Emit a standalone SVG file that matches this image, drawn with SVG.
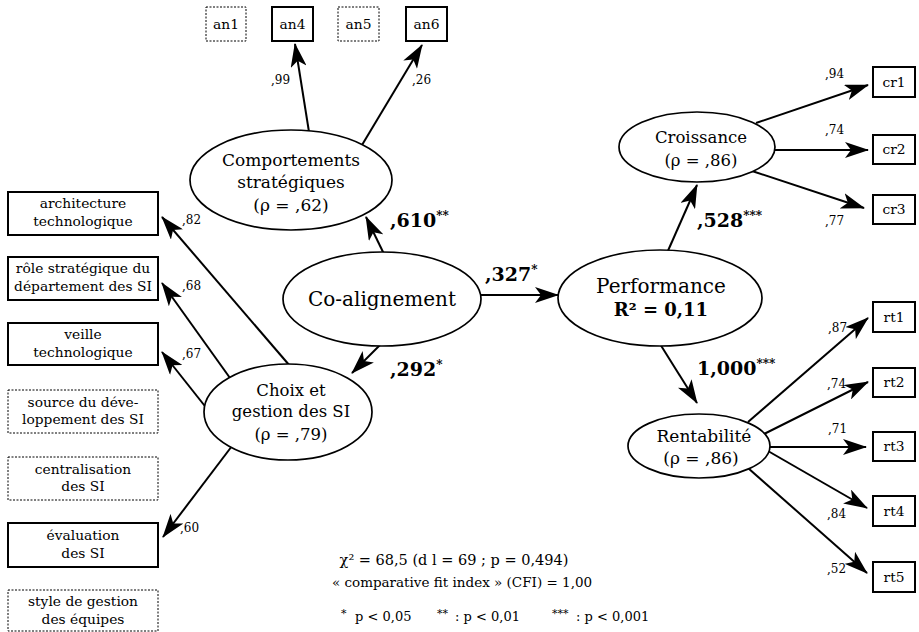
<svg xmlns="http://www.w3.org/2000/svg" width="919" height="632" viewBox="0 0 919 632">
<style>
text{font-family:"DejaVu Serif","Liberation Serif",serif;fill:#000;}
.box{fill:#fff;stroke:#000;stroke-width:2;}
.dbox{fill:#fff;stroke:#000;stroke-width:1;stroke-dasharray:2,1.5;}
.ell{fill:#fff;stroke:#000;stroke-width:1.7;}
.bt{font-size:13.8px;text-anchor:middle;}
.lt{font-size:12px;}
.bl{font-size:19px;font-weight:bold;}
.sup{font-size:12px;font-weight:bold;}
.c{text-anchor:middle;}
.con line{stroke:#000;stroke-width:2;marker-end:url(#ah);}
.note{font-size:13px;}
</style>
<defs>
<marker id="ah" markerUnits="userSpaceOnUse" markerWidth="24" markerHeight="16" refX="23" refY="8" orient="auto" viewBox="0 0 24 16">
<path d="M0,0 L24,8 L0,16 L6,8 z" fill="#000"/>
</marker>
</defs>
<rect width="919" height="632" fill="#fff"/>

<g id="connectors" class="con">
<line x1="309" y1="132" x2="295" y2="44"/>
<line x1="362" y1="145" x2="422" y2="45"/>
<line x1="384" y1="254" x2="366" y2="217"/>
<line x1="480" y1="295" x2="558" y2="295"/>
<line x1="380" y1="345" x2="352" y2="373"/>
<line x1="290" y1="366" x2="162" y2="217"/>
<line x1="230" y1="378" x2="162" y2="283"/>
<line x1="208" y1="410" x2="162" y2="352"/>
<line x1="232" y1="446" x2="163" y2="537"/>
<line x1="667" y1="253" x2="697" y2="185"/>
<line x1="660" y1="344" x2="697" y2="403"/>
<line x1="756" y1="123" x2="868" y2="85"/>
<line x1="772" y1="150" x2="868" y2="150"/>
<line x1="752" y1="171" x2="864" y2="208"/>
<line x1="748" y1="422" x2="868" y2="318"/>
<line x1="764" y1="434" x2="868" y2="382"/>
<line x1="768" y1="447" x2="866" y2="447"/>
<line x1="768" y1="451" x2="867" y2="508"/>
<line x1="748" y1="468" x2="867" y2="573"/>
</g>

<g id="an1"><rect class="dbox" x="206" y="7" width="40" height="34"/><text class="bt" x="226" y="29">an1</text></g>
<g id="an4"><rect class="box" x="272" y="7" width="41" height="34"/><text class="bt" x="292.5" y="29">an4</text></g>
<g id="an5"><rect class="dbox" x="338" y="7" width="41" height="34"/><text class="bt" x="358.5" y="29">an5</text></g>
<g id="an6"><rect class="box" x="406" y="7" width="41" height="34"/><text class="bt" x="426.5" y="29">an6</text></g>

<g id="comportements"><ellipse class="ell" cx="291" cy="180" rx="101" ry="50"/>
<text class="c" x="291" y="166" font-size="17">Comportements</text>
<text class="c" x="291" y="188" font-size="17">stratégiques</text>
<text class="c" x="291" y="211" font-size="17">(ρ = ,62)</text></g>

<g id="coalignement"><ellipse class="ell" cx="382" cy="299" rx="99" ry="47"/>
<text class="c" x="382" y="306" font-size="20">Co-alignement</text></g>

<g id="choix"><ellipse class="ell" cx="288" cy="412" rx="84" ry="48"/>
<text class="c" x="291" y="396" font-size="16.5">Choix et</text>
<text class="c" x="291" y="417" font-size="16.5">gestion des SI</text>
<text class="c" x="291" y="440" font-size="16.5">(ρ = ,79)</text></g>

<g id="performance"><ellipse class="ell" cx="660" cy="298" rx="102" ry="48"/>
<text class="c" x="661" y="293" font-size="20">Performance</text>
<text class="c" x="661" y="316" font-size="18" font-weight="bold">R² = 0,11</text></g>

<g id="croissance"><ellipse class="ell" cx="697" cy="147" rx="78" ry="35"/>
<text class="c" x="701" y="143" font-size="16.5">Croissance</text>
<text class="c" x="701" y="166" font-size="16.5">(ρ = ,86)</text></g>

<g id="rentabilite"><ellipse class="ell" cx="699" cy="446" rx="71" ry="32"/>
<text class="c" x="704" y="442" font-size="17">Rentabilité</text>
<text class="c" x="701" y="464" font-size="17">(ρ = ,86)</text></g>

<g id="architecture"><rect class="box" x="8" y="192" width="150" height="43"/><text class="bt" x="83" y="208">architecture</text><text class="bt" x="83" y="226">technologique</text></g>
<g id="role"><rect class="box" x="8" y="257" width="150" height="43"/><text class="bt" x="83" y="273">rôle stratégique du</text><text class="bt" x="83" y="291">département des SI</text></g>
<g id="veille"><rect class="box" x="8" y="323" width="150" height="42"/><text class="bt" x="83" y="339">veille</text><text class="bt" x="83" y="357">technologique</text></g>
<g id="source"><rect class="dbox" x="8" y="390" width="150" height="43"/><text class="bt" x="83" y="407">source du déve-</text><text class="bt" x="83" y="424">loppement des SI</text></g>
<g id="centralisation"><rect class="dbox" x="8" y="457" width="150" height="43"/><text class="bt" x="83" y="474">centralisation</text><text class="bt" x="83" y="491">des SI</text></g>
<g id="evaluation"><rect class="box" x="8" y="523" width="150" height="44"/><text class="bt" x="83" y="540">évaluation</text><text class="bt" x="83" y="558">des SI</text></g>
<g id="style"><rect class="dbox" x="8" y="590" width="150" height="41"/><text class="bt" x="83" y="606">style de gestion</text><text class="bt" x="83" y="624">des équipes</text></g>

<g id="cr1"><rect class="box" x="873" y="67" width="42" height="30"/><text class="bt" x="894" y="87">cr1</text></g>
<g id="cr2"><rect class="box" x="873" y="135" width="42" height="29"/><text class="bt" x="894" y="154">cr2</text></g>
<g id="cr3"><rect class="box" x="873" y="195" width="42" height="29"/><text class="bt" x="894" y="214">cr3</text></g>
<g id="rt1"><rect class="box" x="873" y="302" width="42" height="30"/><text class="bt" x="894" y="322">rt1</text></g>
<g id="rt2"><rect class="box" x="873" y="368" width="42" height="29"/><text class="bt" x="894" y="387">rt2</text></g>
<g id="rt3"><rect class="box" x="873" y="432" width="42" height="29"/><text class="bt" x="894" y="451">rt3</text></g>
<g id="rt4"><rect class="box" x="873" y="496" width="42" height="30"/><text class="bt" x="894" y="516">rt4</text></g>
<g id="rt5"><rect class="box" x="873" y="562" width="42" height="30"/><text class="bt" x="894" y="582">rt5</text></g>

<g id="labels">
<text class="lt" x="271" y="84">,99</text>
<text class="lt" x="412" y="84">,26</text>
<text class="lt" x="182" y="224">,82</text>
<text class="lt" x="182" y="290">,68</text>
<text class="lt" x="182" y="358">,67</text>
<text class="lt" x="180" y="532">,60</text>
<text class="lt" x="825" y="78">,94</text>
<text class="lt" x="825" y="134">,74</text>
<text class="lt" x="825" y="225">,77</text>
<text class="lt" x="828" y="332">,87</text>
<text class="lt" x="827" y="388">,74</text>
<text class="lt" x="828" y="433">,71</text>
<text class="lt" x="827" y="518">,84</text>
<text class="lt" x="827" y="573">,52</text>
<text class="bl" x="390" y="227">,610<tspan class="sup" dy="-7">**</tspan></text>
<text class="bl" x="485" y="281">,327<tspan class="sup" dy="-7">*</tspan></text>
<text class="bl" x="390" y="376">,292<tspan class="sup" dy="-7">*</tspan></text>
<text class="bl" x="697" y="227">,528<tspan class="sup" dy="-7">***</tspan></text>
<text class="bl" x="697" y="375">1,000<tspan class="sup" dy="-7">***</tspan></text>
</g>

<g id="notes">
<text class="c" x="454" y="565" font-size="14.5">χ² = 68,5 (d l = 69 ; p = 0,494)</text>
<text class="c" x="462" y="587" font-size="13.5">« comparative fit index » (CFI) = 1,00</text>
<text class="note" x="341" y="621"><tspan font-size="11" dy="-4">*</tspan><tspan dy="4" x="355">p &lt; 0,05</tspan></text>
<text class="note" x="437" y="621"><tspan font-size="11" dy="-4">**</tspan><tspan dy="4" x="455">: p &lt; 0,01</tspan></text>
<text class="note" x="552" y="621"><tspan font-size="11" dy="-4">***</tspan><tspan dy="4" x="576">: p &lt; 0,001</tspan></text>
</g>
</svg>
